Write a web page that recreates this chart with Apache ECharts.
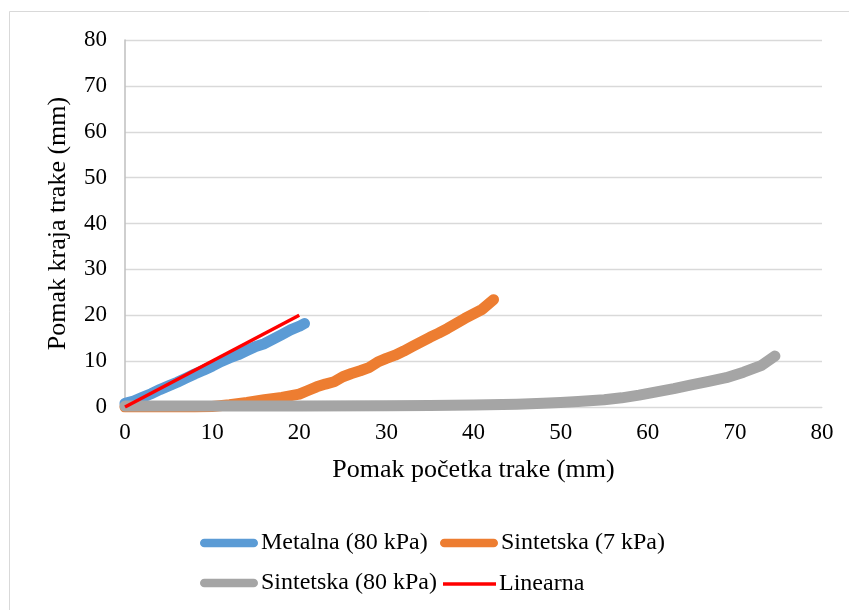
<!DOCTYPE html>
<html>
<head>
<meta charset="utf-8">
<script src="https://cdn.jsdelivr.net/npm/echarts@6/dist/echarts.min.js"></script>
<style>html,body{margin:0;padding:0;background:#fff}#c{width:849px;height:610px}</style>
</head>
<body>
<div id="c"></div>
<script>
// ---- data ----
const seriesNames = ['Metalna (80 kPa)', 'Sintetska (7 kPa)', 'Sintetska (80 kPa)', 'Linearna'];
const metalnaX = [0, 1, 2, 3, 4, 5, 6, 7, 8, 9, 10, 11, 12, 13, 14, 15, 16, 17, 18, 19, 20, 20.6];
const metalnaY = [0.8, 1.3, 2.1, 2.9, 3.8, 4.6, 5.4, 6.3, 7.2, 8.0, 8.9, 9.9, 10.7, 11.4, 12.3, 13.2, 13.8, 14.8, 15.8, 16.8, 17.6, 18.2];
const sint7X = [0, 8, 10, 12, 14, 16, 18, 20, 21, 22, 23, 24, 25, 26, 27, 28, 29, 30, 31, 32, 33, 34, 35, 36, 37, 38, 39, 40, 41, 42.3];
const sint7Y = [0, 0, 0.1, 0.5, 1.0, 1.6, 2.1, 2.8, 3.6, 4.4, 5.0, 5.5, 6.6, 7.3, 7.9, 8.6, 9.8, 10.6, 11.3, 12.2, 13.2, 14.2, 15.2, 16.1, 17.1, 18.2, 19.3, 20.3, 21.3, 23.4];
const sint80X = [0, 10, 20, 30, 35, 40, 45, 48, 50, 52, 55, 57, 59, 61, 63, 65, 67, 69, 71, 73, 74.6];
const sint80Y = [0.2, 0.2, 0.2, 0.25, 0.3, 0.45, 0.6, 0.8, 1.0, 1.2, 1.6, 2.0, 2.6, 3.3, 4.0, 4.8, 5.6, 6.4, 7.6, 9.0, 11.1];
const linX = [0, 20];
const linY = [0, 20];
const xTicks = [0, 10, 20, 30, 40, 50, 60, 70, 80];
const yTicks = [0, 10, 20, 30, 40, 50, 60, 70, 80];
const xTitle = 'Pomak početka trake (mm)';
const yTitle = 'Pomak kraja trake (mm)';

const colors = ['#5b9bd5', '#ed7d31', '#a5a5a5', '#ff0000'];
const widths = [11, 11, 11, 3.5];
const FONT = '"Liberation Serif", "Times New Roman", serif';
const zip = (xs, ys) => xs.map((x, i) => [x, ys[i]]);
const datasets = [zip(metalnaX, metalnaY), zip(sint7X, sint7Y), zip(sint80X, sint80Y), zip(linX, linY)];

const capsule = 'path://M4.5,0 L55.5,0 A4.5,4.5 0 0 1 55.5,9 L4.5,9 A4.5,4.5 0 0 1 4.5,0 Z';
function legendFor(i, left, top, w, h) {
  return {
    left: left, top: top, orient: 'horizontal', padding: 0,
    itemWidth: w, itemHeight: h,
    data: [{ name: seriesNames[i], icon: i === 3 ? 'rect' : capsule }],
    textStyle: { fontFamily: FONT, fontSize: 24, color: '#000', padding: [0, 0, 0, -2] },
    selectedMode: false
  };
}

const chart = echarts.init(document.getElementById('c'), null, { renderer: 'canvas' });
chart.setOption({
  animation: false,
  backgroundColor: '#fff',
  graphic: [{
    type: 'rect', shape: { x: 9.5, y: 11.5, width: 860, height: 620 },
    style: { fill: 'none', stroke: '#d9d9d9', lineWidth: 1 }, silent: true, z: -1
  }],
  grid: { left: 125, right: 27, top: 40, bottom: 203 },
  xAxis: {
    type: 'value', min: 0, max: 80, interval: 10,
    name: xTitle, nameLocation: 'middle', nameGap: 50,
    nameTextStyle: { fontFamily: FONT, fontSize: 26, color: '#000' },
    axisLine: { show: true, lineStyle: { color: '#d9d9d9', width: 1 } },
    axisTick: { show: false },
    splitLine: { show: false },
    axisLabel: {
      fontFamily: FONT, fontSize: 23, color: '#000', margin: 14,
      formatter: v => xTicks.includes(v) ? String(v) : ''
    }
  },
  yAxis: {
    type: 'value', min: 0, max: 80, interval: 10,
    name: yTitle, nameLocation: 'middle', nameGap: 54,
    nameTextStyle: { fontFamily: FONT, fontSize: 26, color: '#000' },
    axisLine: { show: true, lineStyle: { color: '#bfbfbf', width: 1.5 } },
    axisTick: { show: false },
    splitLine: { show: true, lineStyle: { color: '#d9d9d9', width: 1.3 } },
    axisLabel: {
      fontFamily: FONT, fontSize: 23, color: '#000', margin: 18,
      formatter: v => yTicks.includes(v) ? String(v) : ''
    }
  },
  legend: [
    legendFor(0, 200, 531, 58, 9),
    legendFor(1, 440, 531, 58, 9),
    legendFor(2, 200, 571, 58, 9),
    legendFor(3, 443, 572, 53, 3.5)
  ],
  series: datasets.map((d, i) => ({
    name: seriesNames[i],
    type: 'line',
    data: d,
    showSymbol: false,
    symbol: 'none',
    smooth: false,
    color: colors[i],
    itemStyle: { color: colors[i] },
    lineStyle: { color: colors[i], width: widths[i], cap: i === 3 ? 'butt' : 'round', join: 'round' },
    z: 2 + i
  }))
});
</script>
</body>
</html>
